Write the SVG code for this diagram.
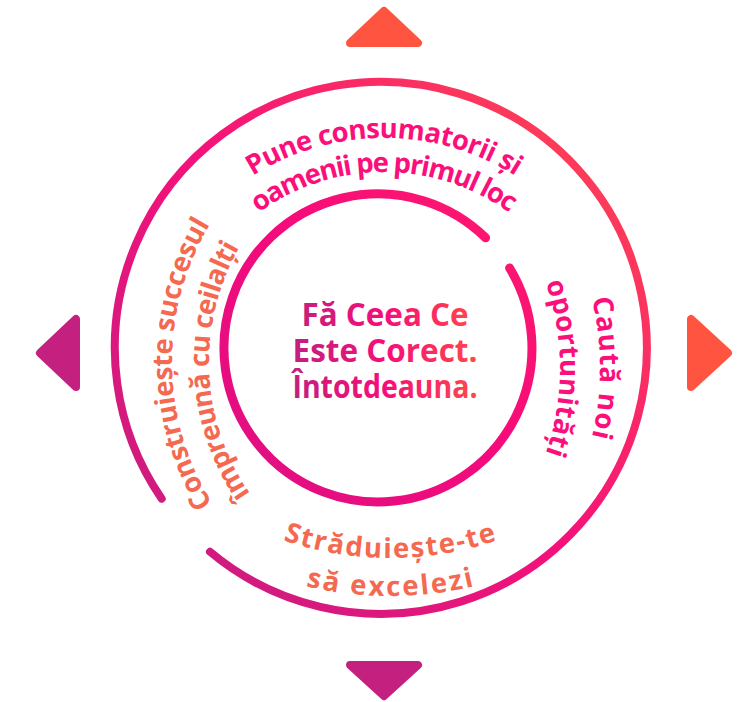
<svg xmlns="http://www.w3.org/2000/svg" width="747" height="702" viewBox="0 0 747 702">
  <defs>
    <style>
      .arc { font-family: "Open Sans", "Noto Sans", sans-serif; font-weight: 700; font-size: 27.5px; }
      .pink { fill: #fc0f7b; }
      .coral { fill: #f4694f; }
      .center { font-family: "Open Sans", "Noto Sans", sans-serif; font-weight: 700; font-size: 32px; fill: url(#gText); }
      .tri-warm { fill: #ff5540; stroke: #ff5540; stroke-width: 8; stroke-linejoin: round; }
      .tri-cool { fill: #c3207f; stroke: #c3207f; stroke-width: 8; stroke-linejoin: round; }
      .ring { fill: none; stroke-linecap: round; }
    </style>
    <linearGradient id="gOuter" gradientUnits="userSpaceOnUse" x1="110" y1="600" x2="650" y2="100">
      <stop offset="0" stop-color="#c21f80"/>
      <stop offset="0.5" stop-color="#f5117a"/>
      <stop offset="1" stop-color="#ff4a4d"/>
    </linearGradient>
    <linearGradient id="gInner" gradientUnits="userSpaceOnUse" x1="225" y1="500" x2="533" y2="195">
      <stop offset="0" stop-color="#dd1083"/>
      <stop offset="0.5" stop-color="#f40a7c"/>
      <stop offset="1" stop-color="#ff1a6c"/>
    </linearGradient>
    <linearGradient id="gText" gradientUnits="userSpaceOnUse" x1="293" y1="0" x2="478" y2="0">
      <stop offset="0" stop-color="#c2207f"/>
      <stop offset="0.5" stop-color="#f70d7a"/>
      <stop offset="1" stop-color="#ff4a48"/>
    </linearGradient>
    <path id="pTop1" d="M140.75,342.11 A247,247 0 0 1 627.25,342.11"/>
    <path id="pTop2" d="M174.24,348.01 A213,213 0 0 1 593.76,348.01"/>
    <path id="pRight1" d="M352.09,72.56 A300,300 0 0 1 352.09,663.44"/>
    <path id="pRight2" d="M345.15,111.95 A260,260 0 0 1 345.15,624.05"/>
    <path id="pLeft1" d="M395.77,626.33 A268,268 0 0 1 391.16,98.49"/>
    <path id="pLeft2" d="M409.85,591.02 A231,231 0 0 1 390.00,136.47"/>
    <path id="pBot1" d="M65.01,285.30 A330,330 0 0 0 714.99,285.30"/>
    <path id="pBot2" d="M27.59,291.90 A368,368 0 0 0 752.41,291.90"/>
  </defs>

  <g id="connectors"></g>

  <g id="ring-outer">
    <path class="ring" stroke="url(#gOuter)" stroke-width="8"
      d="M161.70,498.65 A266,266 0 1 1 210.02,551.77"/>
  </g>

  <g id="ring-inner">
    <path class="ring" stroke="url(#gInner)" stroke-width="9"
      d="M509.59,267.99 A154,154 0 1 1 485.58,237.76"/>
  </g>

  <g id="center-text" class="center" text-anchor="middle">
    <text x="385" y="326" textLength="167" lengthAdjust="spacingAndGlyphs">Fă Ceea Ce</text>
    <text x="385" y="362" textLength="185" lengthAdjust="spacingAndGlyphs">Este Corect.</text>
    <text x="385" y="398" textLength="185" lengthAdjust="spacingAndGlyphs">Întotdeauna.</text>
  </g>

  <g id="label-top" class="arc pink" text-anchor="middle">
    <text><textPath href="#pTop1" startOffset="50%" textLength="277">Pune consumatorii și</textPath></text>
    <text><textPath href="#pTop2" startOffset="50%" textLength="268">oamenii pe primul loc</textPath></text>
  </g>

  <g id="label-right" class="arc pink" text-anchor="middle">
    <text><textPath href="#pRight1" startOffset="50%" textLength="140">Caută noi</textPath></text>
    <text><textPath href="#pRight2" startOffset="50%" textLength="174">oportunități</textPath></text>
  </g>

  <g id="label-left" class="arc coral" text-anchor="middle">
    <text><textPath href="#pLeft1" startOffset="50%" textLength="294">Construiește succesul</textPath></text>
    <text><textPath href="#pLeft2" startOffset="50%" textLength="260">împreună cu ceilalți</textPath></text>
  </g>

  <g id="label-bottom" class="arc coral" text-anchor="middle">
    <text><textPath href="#pBot1" startOffset="50%" textLength="218">Străduiește-te</textPath></text>
    <text><textPath href="#pBot2" startOffset="50%" textLength="170">să excelezi</textPath></text>
  </g>

  <g id="arrow-up"><polygon class="tri-warm" points="384,11 418,43 350,43"/></g>
  <g id="arrow-right"><polygon class="tri-warm" points="728,353 691,319 691,387"/></g>
  <g id="arrow-down"><polygon class="tri-cool" points="384,696 418,665 350,665"/></g>
  <g id="arrow-left"><polygon class="tri-cool" points="40,353 76,319 76,387"/></g>
</svg>
